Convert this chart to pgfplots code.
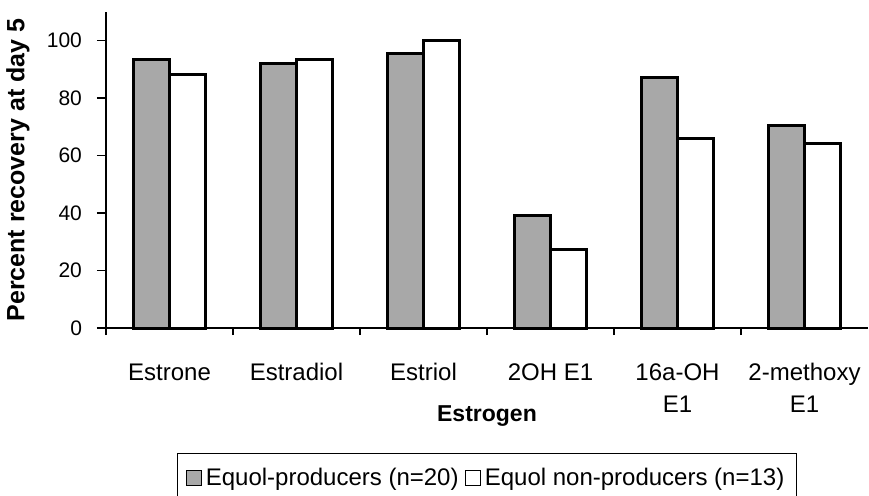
\documentclass[border=0pt]{standalone}
\usepackage{pgfplots}
\pgfplotsset{compat=1.18}
\usepackage{fontspec}
\setmainfont{Liberation Sans}
\definecolor{stipple}{gray}{0.66}
\begin{document}
\begin{tikzpicture}
\useasboundingbox (-53pt,-83.5pt) rectangle (381.5pt,164pt);
\begin{axis}[
  at={(0pt,0pt)}, anchor=south west,
  width=381pt, height=158pt, scale only axis,
  xmin=-0.5, xmax=5.5, ymin=0, ymax=110,
  axis x line=bottom, axis y line=left,
  axis line style={-, line width=0.8pt},
  ybar=0pt, bar width=18pt,
  xtick={0,1,2,3,4,5},
  xticklabels={{\strut Estrone},{\strut Estradiol},{\strut Estriol},{\strut 2OH E1},{\strut 16a-OH\\E1},{\strut 2-methoxy\\E1}},
  xticklabel style={align=center, anchor=north, yshift=-7pt, font=\fontsize{12}{16}\selectfont},
  major x tick style={draw=none},
  minor xtick={-0.5,0.5,1.5,2.5,3.5,4.5},
  minor x tick style={black, line width=0.7pt},
  minor tick length=3.5pt,
  ytick={0,20,40,60,80,100},
  major tick length=4.5pt,
  tick align=outside,
  y tick style={black, line width=0.7pt},
  yticklabel style={font=\fontsize{10.5}{12}\selectfont, xshift=-4pt},
  /pgf/number format/assume math mode=true,
  ylabel={\textbf{Percent recovery at day 5}},
  ylabel style={font=\fontsize{12.5}{14}\selectfont, at={(axis description cs:-0.1155,0.5)}, anchor=center},
  xlabel={\textbf{Estrogen}},
  xlabel style={font=\fontsize{11.5}{13}\selectfont, at={(axis description cs:0.5,-0.28)}, anchor=center},
  legend style={at={(axis description cs:0.5,-0.396)}, anchor=north, legend columns=2, draw=black, line width=0.5pt,
    font=\fontsize{12}{14}\selectfont, inner xsep=4pt, inner ysep=5pt, row sep=0pt,
    /tikz/every even column/.append style={column sep=1pt}},
  legend image code/.code={\draw[#1, line width=0.6pt] (0pt,-3.75pt) rectangle (7.5pt,3.75pt);},
  clip=false,
]
\addplot[fill=stipple, draw=black, line width=1.5pt] coordinates {(0,93.4) (1,92.2) (2,95.7) (3,39.1) (4,87.2) (5,70.6)};
\addplot[fill=white, draw=black, line width=1.5pt] coordinates {(0,88.1) (1,93.4) (2,100.2) (3,27.2) (4,66.1) (5,64.1)};
\legend{Equol-producers (n=20),Equol non-producers (n=13)}
\end{axis}
\end{tikzpicture}
\end{document}
